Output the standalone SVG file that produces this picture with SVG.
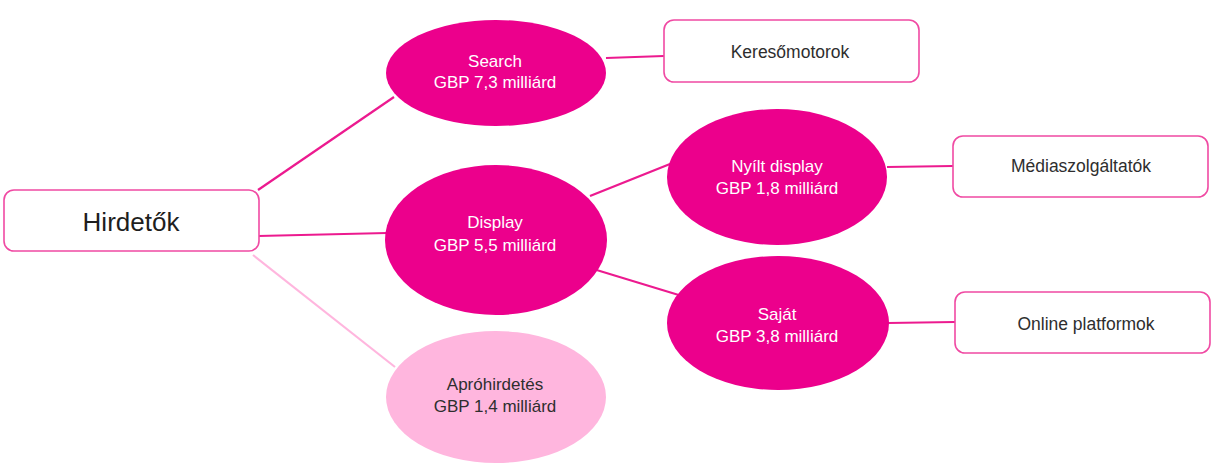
<svg xmlns="http://www.w3.org/2000/svg" width="1211" height="464" viewBox="0 0 1211 464">
  <style>
    .box { fill: #ffffff; stroke: #f04aa3; stroke-width: 1.6; }
    .dark { fill: #ec008c; }
    .light { fill: #ffb6de; }
    .link { stroke: #ec1a8f; stroke-width: 2.2; fill: none; }
    .link-light { stroke: #ffb6de; stroke-width: 2.2; fill: none; }
    text { font-family: "Liberation Sans", "DejaVu Sans", sans-serif; text-anchor: middle; }
    .w { fill: #ffffff; font-size: 17px; }
    .k { fill: #2e2e2e; font-size: 17.5px; }
    .big { fill: #1e1e1e; font-size: 26px; }
  </style>

  <!-- connectors -->
  <g id="connectors">
    <line class="link" x1="258" y1="190" x2="394" y2="97"/>
    <line class="link" x1="258" y1="236" x2="387" y2="233"/>
    <line class="link-light" x1="253" y1="255" x2="395" y2="367"/>
    <line class="link" x1="606" y1="58" x2="664" y2="56"/>
    <line class="link" x1="590" y1="196" x2="670" y2="164"/>
    <line class="link" x1="590" y1="268" x2="682" y2="296"/>
    <line class="link" x1="887" y1="167" x2="953" y2="166"/>
    <line class="link" x1="888" y1="323" x2="955" y2="322"/>
  </g>

  <!-- root -->
  <g id="hirdetok">
    <rect class="box" x="4" y="190" width="255" height="61" rx="10"/>
    <text class="big" x="131" y="231">Hirdetők</text>
  </g>

  <!-- first level -->
  <g id="search">
    <ellipse class="dark" cx="496" cy="73" rx="110" ry="53"/>
    <text class="w" x="495" y="67">Search</text>
    <text class="w" x="495" y="88">GBP 7,3 milliárd</text>
  </g>
  <g id="display">
    <ellipse class="dark" cx="496" cy="240" rx="111" ry="75"/>
    <text class="w" x="495" y="228">Display</text>
    <text class="w" x="495" y="251">GBP 5,5 milliárd</text>
  </g>
  <g id="aprohirdetes">
    <ellipse class="light" cx="496" cy="397" rx="110" ry="66"/>
    <text class="k" x="495" y="390" style="font-size:17px">Apróhirdetés</text>
    <text class="k" x="495" y="412" style="font-size:17px">GBP 1,4 milliárd</text>
  </g>

  <!-- second level -->
  <g id="nyilt-display">
    <ellipse class="dark" cx="777" cy="177" rx="110" ry="68"/>
    <text class="w" x="777" y="172">Nyílt display</text>
    <text class="w" x="777" y="194">GBP 1,8 milliárd</text>
  </g>
  <g id="sajat">
    <ellipse class="dark" cx="778" cy="323" rx="111" ry="67"/>
    <text class="w" x="777" y="320">Saját</text>
    <text class="w" x="777" y="342">GBP 3,8 milliárd</text>
  </g>

  <!-- leaves -->
  <g id="keresomotorok">
    <rect class="box" x="664" y="20" width="255" height="62" rx="10"/>
    <text class="k" x="790" y="58">Keresőmotorok</text>
  </g>
  <g id="mediaszolgaltatok">
    <rect class="box" x="953" y="136" width="255" height="61" rx="10"/>
    <text class="k" x="1081" y="172">Médiaszolgáltatók</text>
  </g>
  <g id="online-platformok">
    <rect class="box" x="955" y="292" width="255" height="61" rx="10"/>
    <text class="k" x="1086" y="330">Online platformok</text>
  </g>
</svg>
